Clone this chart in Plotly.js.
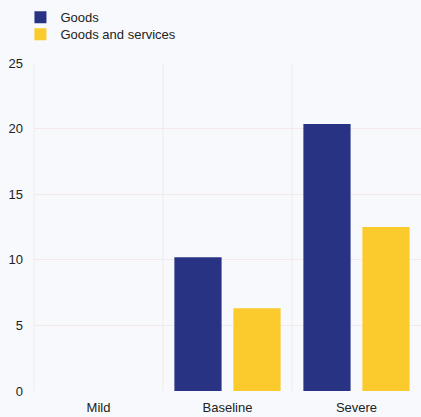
<!DOCTYPE html>
<html><head><meta charset="utf-8">
<script src="https://cdn.plot.ly/plotly-3.0.1.min.js"></script>
<style>html,body{margin:0;padding:0;background:#f7f9fc;}</style>
</head><body>
<div id="chart" style="width:421px;height:417px;"></div>
<script>
const categories = ["Mild", "Baseline", "Severe"];
const goods = [0, 10.2, 20.35];
const goodsAndServices = [0, 6.3, 12.5];
const yTicks = [0, 5, 10, 15, 20, 25];

const traces = [
  {type: "bar", name: "Goods", x: categories, y: goods, marker: {color: "#283483"}, legend: "legend"},
  {type: "bar", name: "Goods and services", x: categories, y: goodsAndServices, marker: {color: "#fbca2c"}, legend: "legend2"}
];
const gridColor = "#f4e9ea";
const legendBase = {x: -0.035, xanchor: "left", yanchor: "top", bgcolor: "rgba(0,0,0,0)",
           font: {size: 13, color: "#222"}, itemsizing: "constant"};
const layout = {
  width: 421, height: 417,
  margin: {l: 34, r: 0, t: 63, b: 26},
  paper_bgcolor: "#f7f9fc", plot_bgcolor: "#f7f9fc",
  font: {family: "Liberation Sans, Arial, sans-serif", size: 13, color: "#222"},
  barmode: "group", bargap: 0.085, bargroupgap: 0.2,
  showlegend: true,
  legend: Object.assign({}, legendBase, {y: 1.185}),
  legend2: Object.assign({}, legendBase, {y: 1.133}),
  xaxis: {type: "category", showgrid: false, zeroline: false, showline: false, ticks: "",
          tickfont: {size: 13, color: "#222"}, range: [-0.5, 2.5], ticklabelstandoff: 7},
  yaxis: {range: [0, 25], tickvals: yTicks, showgrid: true, gridcolor: gridColor, zeroline: false,
          showline: false, ticks: "", tickfont: {size: 13, color: "#222"}, ticklabelstandoff: 10},
  shapes: [0.5, 1.5].map(v => ({type: "line", xref: "x", yref: "paper", x0: v, x1: v, y0: 0, y1: 1,
          line: {color: gridColor, width: 1}, layer: "below"})).concat([
          {type: "line", xref: "paper", yref: "paper", x0: 0, x1: 0, y0: 0, y1: 1, line: {color: gridColor, width: 1}, layer: "below"}])
};
Plotly.newPlot("chart", traces, layout, {staticPlot: true, displayModeBar: false});
</script>
</body></html>
